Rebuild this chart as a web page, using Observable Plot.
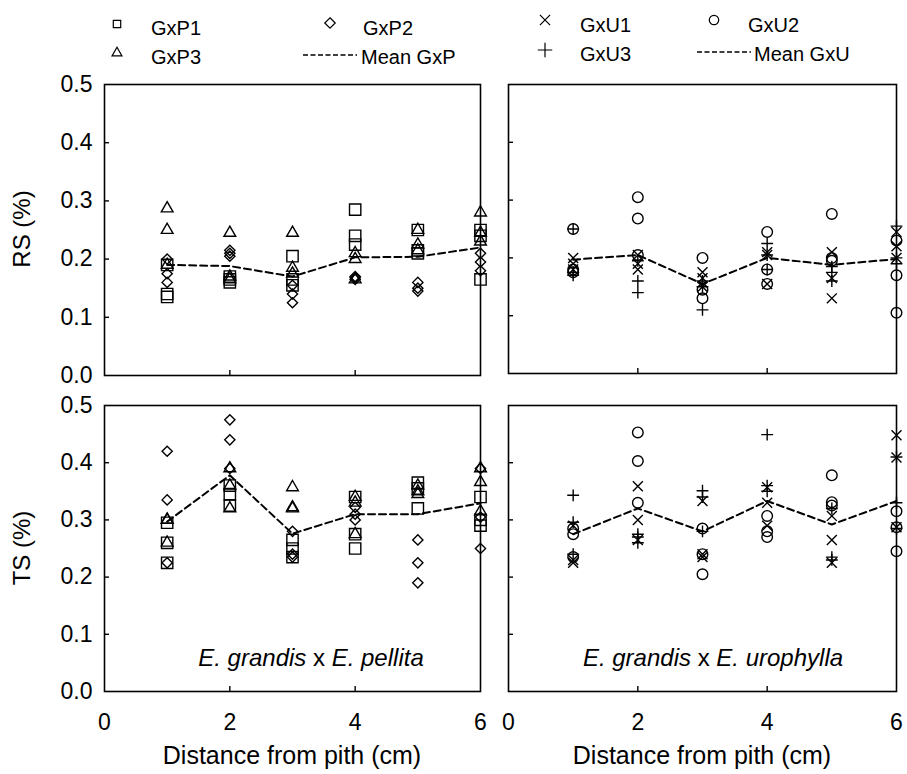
<!DOCTYPE html>
<html><head><meta charset="utf-8">
<script src="https://cdn.jsdelivr.net/npm/d3@7"></script>
<script src="https://cdn.jsdelivr.net/npm/@observablehq/plot@0.6"></script>
<style>
body{margin:0;background:#fff;font-family:"Liberation Sans",Arial,sans-serif;}
#wrap{position:relative;width:907px;height:774px;overflow:hidden;}
#wrap svg.panel{position:absolute;left:0;top:0;}
.t{position:absolute;white-space:nowrap;color:#000;line-height:1;}
.c{transform:translate(-50%,-50%);}
.l{transform:translate(0,-50%);}
</style></head><body><div id="wrap"></div>
<script>
// ---------------- data ----------------
const distances = [1, 2, 3, 4, 5, 6];
const xTicks = [0, 2, 4, 6];
const yTicks = [0, 0.1, 0.2, 0.3, 0.4, 0.5];
const genotypesGxP = ["GxP1", "GxP2", "GxP3"];
const genotypesGxU = ["GxU1", "GxU2", "GxU3"];
const symbolNames = ["square2", "diamond2", "triangle2", "times", "circle", "plus"];
const symbolRadius = [7.2, 4.6, 5.6, 4.6, 5.3, 3.9];

// RS (%) — E. grandis x E. pellita, three trees per distance
const rsGxP1 = [[0.19,0.14,0.135],[0.17,0.165,0.16],[0.205,0.165,0.155],[0.285,0.24,0.225],[0.25,0.215,0.21],[0.25,0.24,0.165]];
const rsGxP2 = [[0.2,0.175,0.16],[0.215,0.21,0.205],[0.155,0.14,0.125],[0.17,0.168,0.165],[0.16,0.15,0.145],[0.21,0.195,0.18]];
const rsGxP3 = [[0.287,0.25,0.19],[0.245,0.17,0.165],[0.245,0.185,0.175],[0.21,0.2,0.165],[0.25,0.225,0.215],[0.28,0.245,0.23]];
const rsMeanGxP = [0.19,0.188,0.17,0.203,0.204,0.22];

// RS (%) — E. grandis x E. urophylla
const rsGxU1 = [[0.2,0.19,0.18],[0.205,0.19,0.18],[0.175,0.165,0.15],[0.21,0.205,0.155],[0.21,0.165,0.13],[0.245,0.22,0.2]];
const rsGxU2 = [[0.25,0.18,0.175],[0.305,0.268,0.205],[0.2,0.145,0.13],[0.245,0.18,0.155],[0.276,0.2,0.195],[0.23,0.17,0.105]];
const rsGxU3 = [[0.25,0.17,0.175],[0.195,0.16,0.14],[0.16,0.15,0.11],[0.225,0.205,0.18],[0.185,0.16,0.175],[0.255,0.2,0.19]];
const rsMeanGxU = [0.197,0.205,0.155,0.2,0.188,0.198];

// TS (%) — E. grandis x E. pellita
const tsGxP1 = [[0.295,0.26,0.225],[0.36,0.345,0.325],[0.265,0.25,0.235],[0.34,0.275,0.25],[0.365,0.355,0.32],[0.34,0.3,0.29]];
const tsGxP2 = [[0.42,0.335,0.225],[0.475,0.44,0.39],[0.28,0.24,0.235],[0.322,0.31,0.3],[0.265,0.225,0.19],[0.39,0.305,0.25]];
const tsGxP3 = [[0.3,0.3,0.26],[0.39,0.36,0.32],[0.357,0.322,0.32],[0.34,0.33,0.275],[0.36,0.35,0.345],[0.39,0.366,0.315]];
const tsMeanGxP = [0.297,0.378,0.276,0.31,0.31,0.329];

// TS (%) — E. grandis x E. urophylla
const tsGxU1 = [[0.29,0.23,0.225],[0.359,0.3,0.265],[0.333,0.24,0.235],[0.357,0.33,0.29],[0.307,0.265,0.225],[0.448,0.409,0.287]];
const tsGxU2 = [[0.285,0.275,0.235],[0.453,0.403,0.33],[0.285,0.24,0.205],[0.307,0.28,0.27],[0.378,0.331,0.325],[0.315,0.287,0.245]];
const tsGxU3 = [[0.343,0.296,0.24],[0.275,0.27,0.26],[0.351,0.34,0.28],[0.449,0.36,0.35],[0.32,0.235,0.23],[0.41,0.33,0.285]];
const tsMeanGxU = [0.275,0.32,0.28,0.333,0.292,0.333];

// ---------------- layout ----------------
const W = 907, H = 774;
const FONT = '"Liberation Sans", Arial, Helvetica, sans-serif';
const wrap = document.getElementById("wrap");
const allGenotypes = [...genotypesGxP, ...genotypesGxU];
const radiusOf = new Map(allGenotypes.map((g, i) => [g, symbolRadius[i]]));

function toRows(names, seriesList) {
  return names.flatMap((name, k) =>
    seriesList[k].flatMap((vals, i) => vals.map(v => ({x: distances[i], y: v, g: name}))));
}
function meanRows(means) { return means.map((v, i) => ({x: distances[i], y: v})); }

function panel({points, mean, box, showY, showX}) {
  const marks = [
    Plot.frame({stroke: "black", strokeWidth: 1.6}),
    Plot.axisY({ticks: yTicks.slice(1, -1), tickSize: -5, tickFormat: () => "", strokeWidth: 1.4, label: null}),
    Plot.axisX({ticks: [2, 4], tickSize: -5, tickFormat: () => "", strokeWidth: 1.4, label: null}),
    Plot.dot(points, {x: "x", y: "y", symbol: "g", r: d => radiusOf.get(d.g), fill: "none", stroke: "black", strokeWidth: 1.4}),
    Plot.line(mean, {x: "x", y: "y", stroke: "black", strokeWidth: 2, strokeDasharray: "7,4"})
  ];
  if (showY) marks.push(Plot.axisY({ticks: yTicks, tickSize: 0, tickPadding: 12, tickFormat: d3.format(".1f"), fontSize: 23, label: null}));
  if (showX) marks.push(Plot.axisX({ticks: xTicks, tickSize: 0, tickPadding: 22, tickFormat: d => String(d), fontSize: 23, label: null}));
  const svg = Plot.plot({
    width: W, height: H,
    marginLeft: box[0], marginRight: W - box[1], marginTop: box[2], marginBottom: H - box[3],
    x: {domain: [0, 6]},
    y: {domain: [0, 0.5]},
    r: {type: "identity"},
    symbol: {domain: allGenotypes, range: symbolNames},
    style: {background: "transparent", fontFamily: FONT, color: "black", overflow: "visible"},
    marks
  });
  svg.classList.add("panel");
  wrap.appendChild(svg);
}

panel({points: toRows(genotypesGxP, [rsGxP1, rsGxP2, rsGxP3]), mean: meanRows(rsMeanGxP), box: [104, 480, 84, 375], showY: true, showX: false});
panel({points: toRows(genotypesGxU, [rsGxU1, rsGxU2, rsGxU3]), mean: meanRows(rsMeanGxU), box: [508, 896, 84, 373], showY: false, showX: false});
panel({points: toRows(genotypesGxP, [tsGxP1, tsGxP2, tsGxP3]), mean: meanRows(tsMeanGxP), box: [104, 480, 405, 691], showY: true, showX: true});
panel({points: toRows(genotypesGxU, [tsGxU1, tsGxU2, tsGxU3]), mean: meanRows(tsMeanGxU), box: [508, 896, 405, 691], showY: false, showX: true});

// ---------------- text ----------------
function txt(html, x, y, size, cls, extra = "") {
  const d = document.createElement("div");
  d.className = "t " + cls;
  d.style.left = x + "px"; d.style.top = y + "px"; d.style.fontSize = size + "px";
  d.style.cssText += extra;
  d.innerHTML = html;
  wrap.appendChild(d);
}
txt("RS (%)", 22, 229, 24, "", "transform:translate(-50%,-50%) rotate(-90deg);");
txt("TS (%)", 22, 548, 24, "", "transform:translate(-50%,-50%) rotate(-90deg);");
txt("Distance from pith (cm)", 292, 755, 25, "c");
txt("Distance from pith (cm)", 702, 755, 25, "c");
txt("<i>E. grandis</i> x <i>E. pellita</i>", 311, 658, 24, "c");
txt("<i>E. grandis</i> x <i>E. urophylla</i>", 713, 658, 24, "c");

// ---------------- legend ----------------
const legendItems = [
  {label: "GxP1", sym: "square2", x: 117, y: 24, tx: 151, ty: 28},
  {label: "GxP2", sym: "diamond2", x: 330, y: 23, tx: 363, ty: 28},
  {label: "GxP3", sym: "triangle2", x: 117, y: 53, tx: 151, ty: 57},
  {label: "Mean GxP", sym: "dash", x: 303, y: 55, tx: 361, ty: 57},
  {label: "GxU1", sym: "times", x: 545, y: 20, tx: 580, ty: 25},
  {label: "GxU2", sym: "circle", x: 714, y: 20, tx: 748, ty: 25},
  {label: "GxU3", sym: "plus", x: 545, y: 50, tx: 580, ty: 54},
  {label: "Mean GxU", sym: "dash", x: 697, y: 52, tx: 754, ty: 54}
];
const d3sym = {square2: d3.symbolSquare2, diamond2: d3.symbolDiamond2, triangle2: d3.symbolTriangle2, times: d3.symbolTimes, circle: d3.symbolCircle, plus: d3.symbolPlus};
const lg = d3.select(wrap).append("svg").attr("width", W).attr("height", 75)
  .style("position", "absolute").style("left", 0).style("top", 0);
for (const it of legendItems) {
  if (it.sym === "dash") {
    lg.append("line").attr("x1", it.x).attr("x2", it.x + 54).attr("y1", it.y).attr("y2", it.y)
      .attr("stroke", "black").attr("stroke-width", 1.6).attr("stroke-dasharray", "5,2.5");
  } else {
    lg.append("path").attr("transform", `translate(${it.x},${it.y})`)
      .attr("d", d3.symbol(d3sym[it.sym], 70)()).attr("fill", "none").attr("stroke", "black").attr("stroke-width", 1.2);
  }
  txt(it.label, it.tx, it.ty, 20, "l");
}
</script></body></html>
